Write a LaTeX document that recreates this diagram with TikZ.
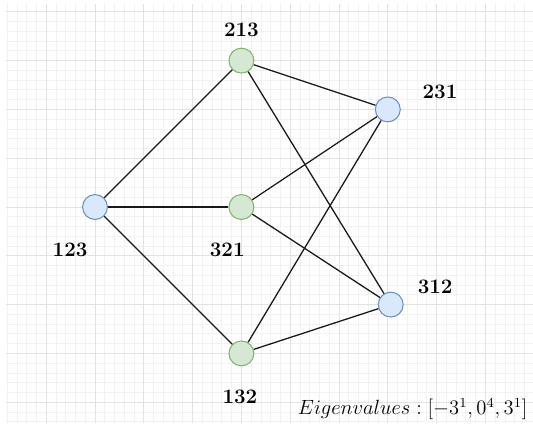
\documentclass[tikz,border=0pt]{standalone}
\usetikzlibrary{positioning}
\definecolor{bluefill}{HTML}{DAE8FC}
\definecolor{bluedraw}{HTML}{6C8EBF}
\definecolor{greenfill}{HTML}{D5E8D4}
\definecolor{greendraw}{HTML}{82B366}
\begin{document}
\begin{tikzpicture}[
    perm/.style={circle, draw, line width=0.6pt, minimum size=0.51cm,
                 inner sep=0pt},
    evenperm/.style={perm, fill=bluefill, draw=bluedraw},
    oddperm/.style={perm, fill=greenfill, draw=greendraw},
    tag/.style={font=\large\bfseries},
    edge/.style={line width=0.75pt, black!90}
  ]
  \useasboundingbox (-1.947,-4.426) rectangle (8.975,4.242);
  \draw[black!5, line width=0.5pt, step=0.2] (-1.824,-4.426) grid (8.975,4.16);
  \draw[black!11, line width=0.6pt, step=1] (-1.824,-4.426) grid (8.975,4.16);

  \node[evenperm] (p123) at (0,0) {};
  \node[oddperm] (p213) at (3,3) {};
  \node[oddperm] (p321) at (3,0) {};
  \node[oddperm] (p132) at (3,-3) {};
  \node[evenperm] (p231) at (6,2) {};
  \node[evenperm] (p312) at (6.06,-2) {};

  \draw[edge] (p123) -- (p213);
  \draw[edge] (p123) -- (p321);
  \draw[edge] (p123) -- (p132);
  \draw[edge] (p213) -- (p231);
  \draw[edge] (p213) -- (p312);
  \draw[edge] (p321) -- (p231);
  \draw[edge] (p321) -- (p312);
  \draw[edge] (p132) -- (p231);
  \draw[edge] (p132) -- (p312);

  \node[tag] (t213) at (3,3.63) {213};
  \node[tag] (t231) at (7.07,2.36) {231};
  \node[tag] (t123) at (-0.51,-0.88) {123};
  \node[tag] (t321) at (2.71,-0.88) {321};
  \node[tag] (t312) at (6.97,-1.64) {312};
  \node[tag] (t132) at (2.97,-3.89) {132};

  \node[font=\large, anchor=base east, inner sep=0pt] (eig) at (8.87,-4.26)
    {$Eigenvalues: [-3^1, 0^4, 3^1]$};
\end{tikzpicture}
\end{document}
